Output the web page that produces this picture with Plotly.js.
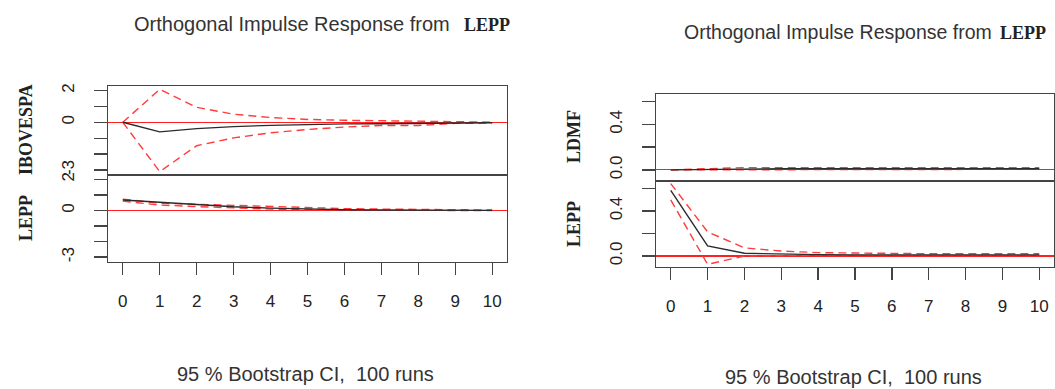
<!DOCTYPE html>
<html>
<head>
<meta charset="utf-8">
<script src="https://cdn.plot.ly/plotly-3.0.1.min.js"></script>
<style>
  html, body { margin: 0; padding: 0; background: #fff; }
  #chart { width: 1055px; height: 389px; }
</style>
</head>
<body>
<div id="chart"></div>
<script>
// ---- data ----
const horizons = [0, 1, 2, 3, 4, 5, 6, 7, 8, 9, 10];
const xTickLabels = ["0", "1", "2", "3", "4", "5", "6", "7", "8", "9", "10"];

// Left panel: responses to LEPP shock (model 1)
const ibovIrf   = [0, -0.60, -0.40, -0.27, -0.19, -0.13, -0.10, -0.09, -0.07, -0.05, -0.03];
const ibovUpper = [0, 2.07, 0.94, 0.51, 0.30, 0.18, 0.13, 0.10, 0.04, 0.02, 0.01];
const ibovLower = [0, -3.10, -1.47, -0.98, -0.66, -0.45, -0.30, -0.20, -0.20, -0.07, -0.05];

const leppIrfL   = [0.67, 0.52, 0.36, 0.24, 0.15, 0.09, 0.05, 0.03, 0.02, 0.01, 0.01];
const leppUpperL = [0.73, 0.47, 0.40, 0.32, 0.24, 0.17, 0.12, 0.09, 0.06, 0.04, 0.03];
const leppLowerL = [0.60, 0.35, 0.25, 0.15, 0.09, 0.05, 0.03, 0.02, 0.01, 0.00, 0.00];

// Right panel: responses to LEPP shock (model 2)
const ldmfIrf   = [0, 0.005, 0.010, 0.010, 0.010, 0.010, 0.010, 0.010, 0.010, 0.010, 0.010];
const ldmfUpper = [0, 0.010, 0.020, 0.020, 0.020, 0.020, 0.020, 0.020, 0.020, 0.020, 0.020];
const ldmfLower = [0, 0.000, 0.005, 0.005, 0.005, 0.005, 0.005, 0.005, 0.005, 0.005, 0.005];

const leppIrfR   = [0.585, 0.090, 0.024, 0.015, 0.012, 0.010, 0.010, 0.010, 0.010, 0.010, 0.010];
const leppUpperR = [0.645, 0.215, 0.072, 0.044, 0.030, 0.025, 0.022, 0.020, 0.020, 0.020, 0.020];
const leppLowerR = [0.500, -0.074, 0.000, 0.005, 0.005, 0.005, 0.005, 0.005, 0.005, 0.005, 0.005];

const leftYTicks  = [-3, -2, -1, 0, 1, 2];
const leftYText   = ["-3", "", "", "0", "", "2"];
const rightYTicks = [0, 0.2, 0.4, 0.6];
const rightYText  = ["0.0", "", "0.4", ""];

const mainTitle = "Orthogonal Impulse Response from";
const impulseName = "LEPP";
const footer = "95 % Bootstrap CI,\u00a0 100 runs";

// ---- styles ----
const SANS = "Liberation Sans, Arial, sans-serif";
const SERIF = "Liberation Serif, Times New Roman, serif";
const irfLine = { color: "#2b2b2b", width: 1.4 };
const ciLine = { color: "#ff3b3b", width: 1.4, dash: "8px,5px" };

function panel(xa, ya, irf, up, lo) {
  return [
    { x: horizons, y: up, xaxis: xa, yaxis: ya, mode: "lines", line: ciLine, hoverinfo: "skip" },
    { x: horizons, y: lo, xaxis: xa, yaxis: ya, mode: "lines", line: ciLine, hoverinfo: "skip" },
    { x: horizons, y: irf, xaxis: xa, yaxis: ya, mode: "lines", line: irfLine, hoverinfo: "skip" }
  ];
}

const data = [].concat(
  panel("x", "y", ibovIrf, ibovUpper, ibovLower),
  panel("x2", "y2", leppIrfL, leppUpperL, leppLowerL),
  panel("x3", "y3", ldmfIrf, ldmfUpper, ldmfLower),
  panel("x4", "y4", leppIrfR, leppUpperR, leppLowerR)
);

const W = 1055, H = 389;
const px = v => v / W;
const py = v => 1 - v / H;

const frame = { showline: true, mirror: true, linecolor: "#444", linewidth: 1.4, showgrid: false, fixedrange: true };

function xAxis(dom, anchor, withTicks) {
  return Object.assign({}, frame, {
    domain: dom, anchor: anchor, range: [-0.4, 10.4], zeroline: false,
    tickvals: horizons, ticktext: xTickLabels,
    ticks: withTicks ? "outside" : "", ticklen: 12, tickcolor: "#444", tickwidth: 1.4,
    showticklabels: withTicks, ticklabelstandoff: 11,
    tickfont: { family: SANS, size: 17, color: "#222" }
  });
}
function yAxis(dom, anchor, range, tv, tt) {
  return Object.assign({}, frame, {
    domain: dom, anchor: anchor, range: range,
    zeroline: true, zerolinecolor: "#ff2020", zerolinewidth: 1.2,
    tickvals: tv, ticktext: tt, ticks: "outside", ticklen: 13,
    tickcolor: "#444", tickwidth: 1.4, tickangle: -90, ticklabelstandoff: 13,
    tickfont: { family: SANS, size: 17, color: "#222" }
  });
}

const LX = [px(108), px(507)];
const RX = [px(656), px(1054)];
const leftRange = [-3.31, 2.28];
const rightRange = [-0.098, 0.668];

const layout = {
  width: W, height: H,
  margin: { l: 0, r: 0, t: 0, b: 0 },
  paper_bgcolor: "#fff", plot_bgcolor: "#fff",
  showlegend: false,
  xaxis:  xAxis(LX, "y", false),
  yaxis:  yAxis([py(175), py(86)], "x", leftRange, leftYTicks, leftYText),
  xaxis2: xAxis(LX, "y2", true),
  yaxis2: yAxis([py(262), py(175)], "x2", leftRange, leftYTicks, leftYText),
  xaxis3: xAxis(RX, "y3", false),
  yaxis3: yAxis([py(181), py(94)], "x3", rightRange, rightYTicks, rightYText),
  xaxis4: xAxis(RX, "y4", true),
  yaxis4: yAxis([py(267), py(181)], "x4", rightRange, rightYTicks, rightYText),
  annotations: [
    // titles
    { xref: "paper", yref: "paper", x: px(132), y: py(24), xanchor: "left", yanchor: "middle", showarrow: false,
      text: mainTitle, font: { family: SANS, size: 20, color: "#333" } },
    { xref: "paper", yref: "paper", x: px(462), y: py(25), xanchor: "left", yanchor: "middle", showarrow: false,
      text: "<b>" + impulseName + "</b>", font: { family: SERIF, size: 18, color: "#222" } },
    { xref: "paper", yref: "paper", x: px(682), y: py(32), xanchor: "left", yanchor: "middle", showarrow: false,
      text: mainTitle, font: { family: SANS, size: 19.5, color: "#333" } },
    { xref: "paper", yref: "paper", x: px(998), y: py(33), xanchor: "left", yanchor: "middle", showarrow: false,
      text: "<b>" + impulseName + "</b>", font: { family: SERIF, size: 18, color: "#222" } },
    // y-axis variable names
    { xref: "paper", yref: "paper", x: px(26), y: py(130), xanchor: "center", yanchor: "middle", showarrow: false,
      textangle: -90, text: "<b>IBOVESPA</b>", font: { family: SERIF, size: 18, color: "#222" } },
    { xref: "paper", yref: "paper", x: px(26), y: py(218), xanchor: "center", yanchor: "middle", showarrow: false,
      textangle: -90, text: "<b>LEPP</b>", font: { family: SERIF, size: 18, color: "#222" } },
    { xref: "paper", yref: "paper", x: px(574), y: py(137), xanchor: "center", yanchor: "middle", showarrow: false,
      textangle: -90, text: "<b>LDMF</b>", font: { family: SERIF, size: 18, color: "#222" } },
    { xref: "paper", yref: "paper", x: px(574), y: py(224), xanchor: "center", yanchor: "middle", showarrow: false,
      textangle: -90, text: "<b>LEPP</b>", font: { family: SERIF, size: 18, color: "#222" } },
    // footers
    { xref: "paper", yref: "paper", x: px(305), y: py(374), xanchor: "center", yanchor: "middle", showarrow: false,
      text: footer, font: { family: SANS, size: 20, color: "#333" } },
    { xref: "paper", yref: "paper", x: px(853), y: py(377), xanchor: "center", yanchor: "middle", showarrow: false,
      text: footer, font: { family: SANS, size: 20, color: "#333" } }
  ]
};

Plotly.newPlot("chart", data, layout, { staticPlot: true, displayModeBar: false });
</script>
</body>
</html>
